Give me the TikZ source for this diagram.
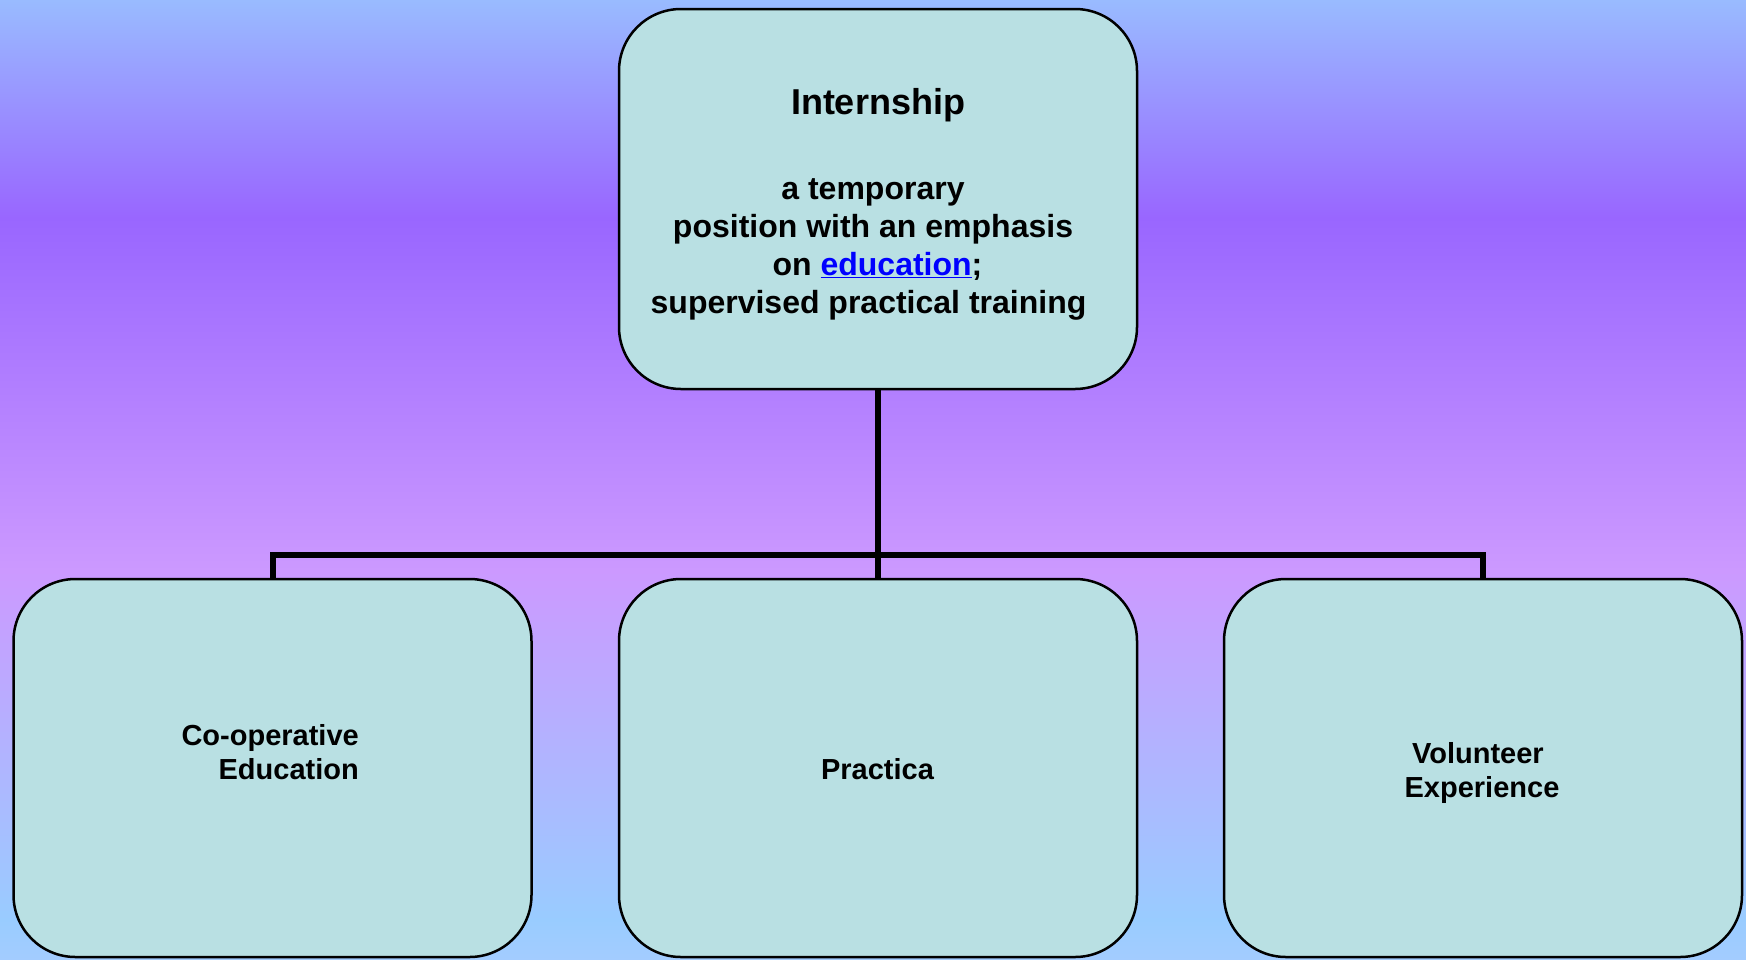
\documentclass[tikz,border=0pt]{standalone}
\usepackage{fontspec}
\setmainfont{Liberation Sans}
\definecolor{boxfill}{RGB}{185,224,227}
\definecolor{bgA}{RGB}{153,187,255}
\definecolor{bgB}{RGB}{153,102,255}
\definecolor{bgC}{RGB}{204,153,255}
\definecolor{bgD}{RGB}{153,204,255}
\definecolor{bgE}{RGB}{163,204,255}
\definecolor{linkblue}{RGB}{0,0,255}
\tikzset{
  box/.style={draw=black, line width=2.5pt, fill=boxfill, rounded corners=62pt,
    minimum width=518pt, inner sep=0pt},
  conn/.style={draw=black, line width=6pt, line join=miter},
  bigtxt/.style={font=\bfseries\fontsize{36}{43}\selectfont, inner sep=0pt},
  bodytxt/.style={font=\bfseries\fontsize{32}{38}\selectfont, align=center, inner sep=0pt},
  smalltxt/.style={font=\bfseries\fontsize{29}{34}\selectfont, inner sep=0pt}
}
\begin{document}
\begin{tikzpicture}[x=1pt,y=-1pt]
\useasboundingbox (0,0) rectangle (1746,959);
% background gradient
\shade[top color=bgA, bottom color=bgB] (0,0) rectangle (1746,218);
\shade[top color=bgB, bottom color=bgC] (0,217) rectangle (1746,571);
\shade[top color=bgC, bottom color=bgD] (0,570) rectangle (1746,921);
\shade[top color=bgD, bottom color=bgE] (0,920) rectangle (1746,959);
% boxes
\node[box, minimum height=380pt] (top) at (878,199) {};
\node[box, minimum height=378pt] (left) at (272.5,768) {};
\node[box, minimum height=378pt] (mid) at (878,768) {};
\node[box, minimum height=378pt] (right) at (1483,768) {};
% texts
\node[bigtxt] (ttitle) at (878,105.5) {Internship};
\node[bodytxt] (tbody) at (873,249.5) {a temporary\\ position with an emphasis\\ \hspace*{0.28em}on \textcolor{linkblue}{\underline{education}};\\ supervised practical training\hspace*{0.28em}};
\node[smalltxt, align=right, anchor=east] (tleft) at (359,752) {Co-operative\\ Education};
\node[smalltxt] (tmid) at (877.5,769) {Practica};
\node[smalltxt, align=center] (tright) at (1482,773) {Volunteer\hspace*{0.28em}\\ Experience};
% connectors
\coordinate (j) at (878,555);
\draw[conn] (top.south) -- (j);
\draw[conn] (left.north) |- (j) -| (right.north);
\draw[conn] (j) -- (mid.north);
\end{tikzpicture}
\end{document}
